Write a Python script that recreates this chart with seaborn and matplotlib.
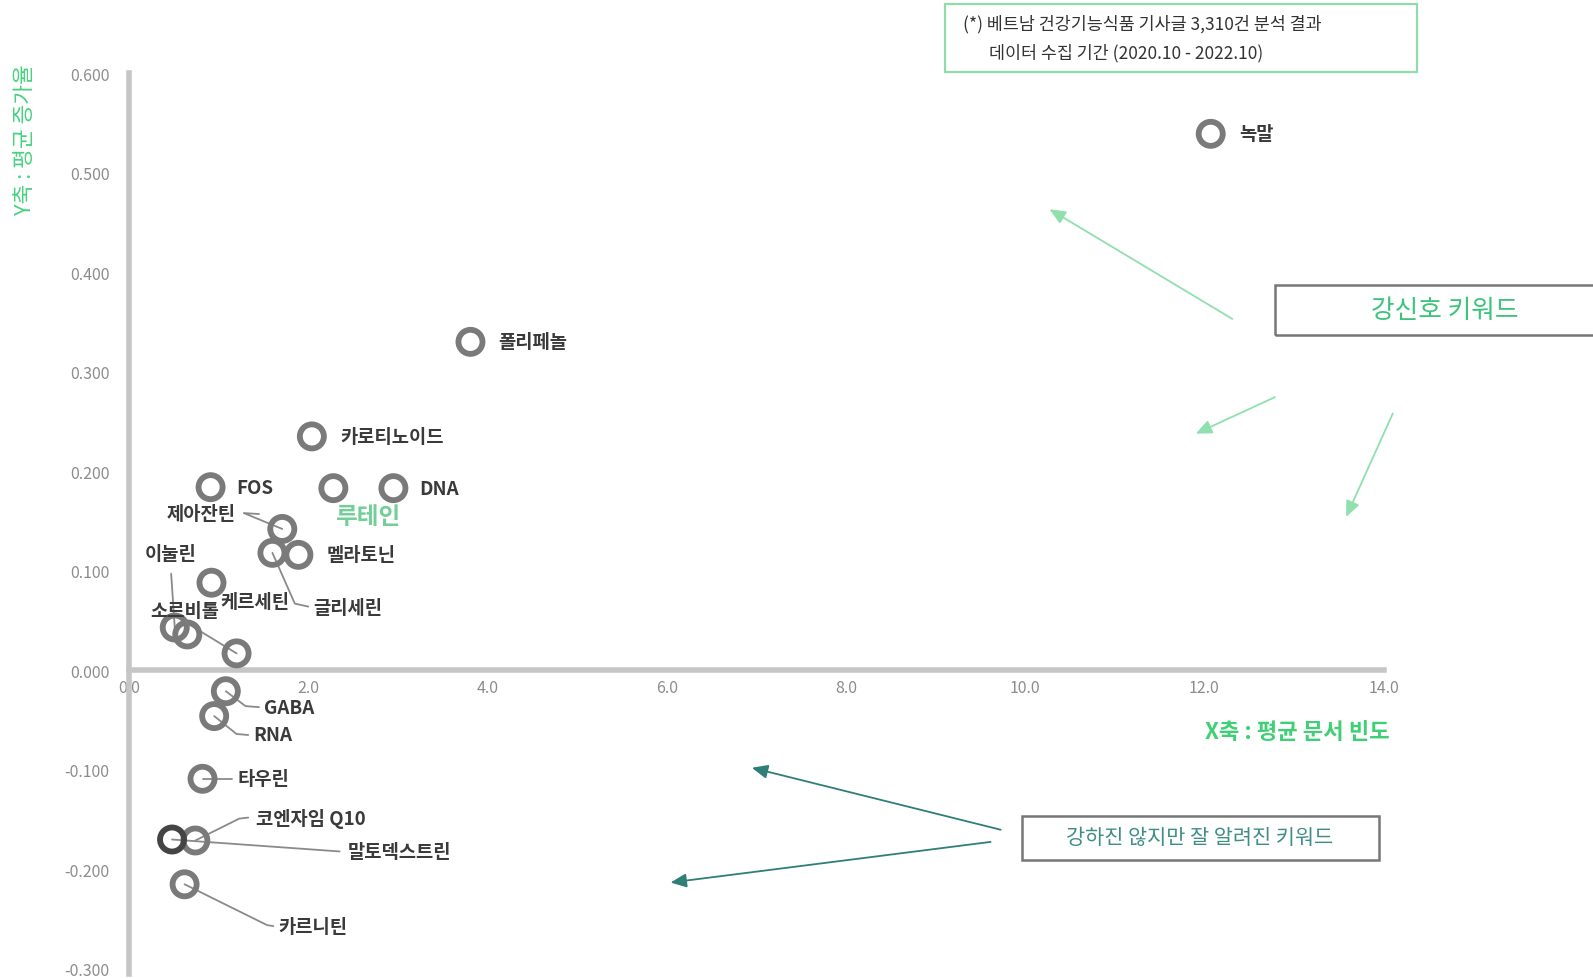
import matplotlib
matplotlib.use("Agg")
import matplotlib.pyplot as plt
import seaborn as sns
import pandas as pd
from matplotlib.patches import Rectangle

# ============================
# Data
# ============================
keywords = ["녹말", "폴리페놀", "카로티노이드", "FOS", "루테인", "DNA", "제아잔틴",
            "멜라토닌", "글리세린", "케르세틴", "이눌린", "", "소르비톨",
            "GABA", "RNA", "타우린", "코엔자임 Q10", "말토덱스트린", "카르니틴"]
doc_freq = [12.07, 3.81, 2.04, 0.91, 2.28, 2.95, 1.71,
            1.89, 1.60, 0.92, 0.51, 0.65, 1.20,
            1.08, 0.95, 0.82, 0.74, 0.48, 0.62]
growth = [0.539, 0.330, 0.235, 0.184, 0.183, 0.183, 0.142,
          0.116, 0.118, 0.088, 0.043, 0.036, 0.017,
          -0.021, -0.046, -0.109, -0.171, -0.170, -0.215]

x_ticks = [0.0, 2.0, 4.0, 6.0, 8.0, 10.0, 12.0, 14.0]
y_ticks = [-0.3, -0.2, -0.1, 0.0, 0.1, 0.2, 0.3, 0.4, 0.5, 0.6]

# label placement (data units): (x, y, ha, leader path or None)
label_layout = {
    "녹말": (12.39, 0.539, "left", None),
    "폴리페놀": (4.12, 0.330, "left", None),
    "카로티노이드": (2.36, 0.235, "left", None),
    "FOS": (1.20, 0.184, "left", None),
    "DNA": (3.24, 0.183, "left", None),
    "제아잔틴": (1.19, 0.158, "right", [(1.28, 0.158), (1.45, 0.157)]),
    "멜라토닌": (2.21, 0.116, "left", None),
    "글리세린": (2.06, 0.063, "left", [(1.85, 0.067), (2.0, 0.064)]),
    "케르세틴": (1.02, 0.069, "left", None),
    "이눌린": (0.17, 0.117, "left", [(0.47, 0.097)]),
    "소르비톨": (0.24, 0.060, "left", [(0.60, 0.050)]),
    "GABA": (1.51, -0.037, "left", [(1.30, -0.036), (1.45, -0.037)]),
    "RNA": (1.39, -0.065, "left", [(1.20, -0.064), (1.33, -0.065)]),
    "타우린": (1.21, -0.109, "left", [(1.15, -0.109)]),
    "코엔자임 Q10": (1.42, -0.148, "left", [(1.23, -0.149), (1.33, -0.148)]),
    "말토덱스트린": (2.44, -0.182, "left", [(2.35, -0.182)]),
    "카르니틴": (1.67, -0.257, "left", [(1.54, -0.256), (1.61, -0.257)]),
}

GREEN = "#3fcf75"
LABEL_COLOR = "#3a3a3a"


def main():
    sns.set_theme(style="white")
    plt.rcParams["font.family"] = ["Noto Sans CJK KR", "DejaVu Sans"]

    df = pd.DataFrame({"keyword": keywords, "freq": doc_freq, "growth": growth})
    df["dark"] = df["keyword"] == "말토덱스트린"

    fig = plt.figure(figsize=(15.93, 9.79), dpi=100)
    ax = fig.add_axes([0.081, 0.0093, 0.7876, 0.915])

    sns.scatterplot(data=df[~df["dark"]], x="freq", y="growth", ax=ax, s=300,
                    marker="o", facecolor="none", edgecolor="#7a7a7a",
                    linewidth=4.2, zorder=3, legend=False)
    sns.scatterplot(data=df[df["dark"]], x="freq", y="growth", ax=ax, s=300,
                    marker="o", facecolor="none", edgecolor="#444444",
                    linewidth=4.2, zorder=3, legend=False)

    # labels with leader lines
    for kw, fx, gy in zip(keywords, doc_freq, growth):
        if kw not in label_layout:
            continue
        tx, ty, ha, path = label_layout[kw]
        if path:
            xs = [fx] + [p[0] for p in path]
            ys = [gy] + [p[1] for p in path]
            ax.plot(xs, ys, color="#8a8a8a", lw=1.3, zorder=2, clip_on=False)
        ax.text(tx, ty, kw, ha=ha, va="center", fontsize=13.5, color=LABEL_COLOR,
                fontweight="bold", zorder=4)

    # 루테인 highlighted label
    ax.text(2.30, 0.155, "루테인", ha="left", va="center", fontsize=17,
            color="#72cf98", fontweight="bold", zorder=4)

    ax.set_xlim(0, 14)
    ax.set_ylim(-0.3, 0.6)
    ax.set_xticks(x_ticks)
    ax.set_yticks(y_ticks)
    ax.set_xticklabels([f"{v:.1f}" for v in x_ticks])
    ax.set_yticklabels([f"{v:.3f}" for v in y_ticks])
    ax.tick_params(axis="both", length=0, labelsize=11.5, labelcolor="#8c8c8c")
    ax.tick_params(axis="y", pad=14)
    ax.tick_params(axis="x", pad=6)
    ax.set_xlabel("")
    ax.set_ylabel("")

    for side in ["top", "right"]:
        ax.spines[side].set_visible(False)
    ax.spines["bottom"].set_position(("data", 0))
    ax.spines["left"].set_position(("data", 0))
    for side in ["left", "bottom"]:
        ax.spines[side].set_color("#c6c6c6")
        ax.spines[side].set_linewidth(4)
    ax.spines["left"].set_bounds(-0.305, 0.6)

    # axis titles
    fig.text(25 / 1568, 1 - 137 / 964, "Y축 : 평균 증가율", rotation=90,
             ha="center", va="center", fontsize=15.5, color="#45d27c")
    fig.text(1277 / 1568, 1 - 721 / 964, "X축 : 평균 문서 빈도",
             ha="center", va="center", fontsize=16, color=GREEN, fontweight="bold")

    # note box
    fig.add_artist(Rectangle((930 / 1568, 1 - 72 / 964), 465 / 1568, 67 / 964,
                             transform=fig.transFigure, fill=False,
                             edgecolor="#8fdcaa", lw=1.6))
    fig.text(948 / 1568, 1 - 24 / 964, "(*) 베트남 건강기능식품 기사글 3,310건 분석 결과",
             ha="left", va="center", fontsize=12.5, color="#333333")
    fig.text(973 / 1568, 1 - 52 / 964, "데이터 수집 기간 (2020.10 - 2022.10)",
             ha="left", va="center", fontsize=12.5, color="#333333")

    # strong-signal box
    fig.add_artist(Rectangle((1255 / 1568, 1 - 331 / 964), 0.25, 49 / 964,
                             transform=fig.transFigure, fill=False,
                             edgecolor="#777777", lw=1.8))
    fig.text(1422 / 1568, 1 - 306 / 964, "강신호 키워드", ha="center", va="center",
             fontsize=18.5, color="#3cc47c")

    # well-known box
    fig.add_artist(Rectangle((1006 / 1568, 1 - 848 / 964), 351 / 1568, 44 / 964,
                             transform=fig.transFigure, fill=False,
                             edgecolor="#777777", lw=1.8))
    fig.text(1181 / 1568, 1 - 825 / 964, "강하진 않지만 잘 알려진 키워드",
             ha="center", va="center", fontsize=15, color="#3e8e86")

    # arrows
    arrows = [((1213, 315), (1033, 207), "#8fe0ad"),
              ((1255, 392), (1177, 428), "#8fe0ad"),
              ((1371, 408), (1325, 510), "#8fe0ad"),
              ((985, 818), (740, 757), "#2f7f78"),
              ((975, 830), (660, 870), "#2f7f78")]
    for (x0, y0), (x1, y1), col in arrows:
        ax.annotate("", xy=(x1 / 1568, 1 - y1 / 964), xytext=(x0 / 1568, 1 - y0 / 964),
                    xycoords="figure fraction", textcoords="figure fraction",
                    arrowprops=dict(arrowstyle="-|>,head_length=0.8,head_width=0.35",
                                    color=col, lw=1.3, shrinkA=0, shrinkB=0))

    plt.savefig("out.png", dpi=100)
    plt.close()


if __name__ == "__main__":
    main()
